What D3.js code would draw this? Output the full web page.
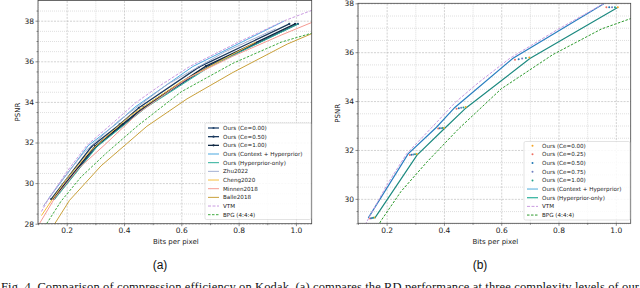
<!DOCTYPE html>
<html>
<head>
<meta charset="utf-8">
<script src="https://cdn.jsdelivr.net/npm/d3@7.9.0/dist/d3.min.js"></script>
<style>
  body { margin: 0; background: #fff; }
  svg { display: block; font-family: "DejaVu Sans", sans-serif; }
</style>
</head>
<body>
<svg id="chart" width="640" height="288"></svg>
<script>
// ---- data (bpp / PSNR) ----
const ce000Bpp = [0.157, 0.305, 0.400, 0.476, 0.698, 1.007];
const ce000Psnr = [29.24, 31.83, 32.90, 33.76, 35.78, 37.84];
const ce025Bpp = [0.142, 0.281, 0.380, 0.444, 0.648, 0.967];
const ce025Psnr = [29.20, 31.79, 32.88, 33.69, 35.69, 37.84];
const ce050Bpp = [0.146, 0.287, 0.385, 0.452, 0.661, 0.977];
const ce050Psnr = [29.21, 31.80, 32.89, 33.71, 35.71, 37.84];
const ce075Bpp = [0.150, 0.293, 0.390, 0.460, 0.673, 0.987];
const ce075Psnr = [29.22, 31.81, 32.89, 33.73, 35.74, 37.84];
const ce100Bpp = [0.153, 0.299, 0.395, 0.468, 0.686, 0.997];
const ce100Psnr = [29.23, 31.82, 32.90, 33.74, 35.76, 37.84];

const ctxHyperBpp = [0.136, 0.275, 0.374, 0.438, 0.640, 0.958];
const ctxHyperPsnr = [29.22, 31.84, 32.93, 33.74, 35.74, 37.98];
const hyperOnlyBpp = [0.158, 0.306, 0.401, 0.477, 0.700, 1.008];
const hyperOnlyPsnr = [29.20, 31.79, 32.87, 33.72, 35.74, 37.84];

const zhuBpp = [0.118, 0.17, 0.26, 0.38, 0.55, 0.75, 0.93];
const zhuPsnr = [28.85, 29.9, 31.5, 33.05, 34.85, 36.45, 37.6];
const chengBpp = [0.112, 0.15, 0.2, 0.28, 0.42, 0.6, 0.86];
const chengPsnr = [28.4, 29.2, 30.2, 31.55, 33.3, 35.0, 36.95];
const minnenBpp = [0.105, 0.16, 0.24, 0.33, 0.45, 0.62, 0.78, 0.95, 1.07];
const minnenPsnr = [28.0, 29.3, 30.7, 31.85, 33.45, 35.15, 36.25, 37.3, 38.0];
const balleBpp = [0.145, 0.21, 0.32, 0.48, 0.62, 0.78, 0.97, 1.07];
const ballePsnr = [27.7, 29.15, 30.85, 32.8, 34.15, 35.45, 36.85, 37.45];
const vtmBpp = [0.112, 0.13, 0.2, 0.27, 0.36, 0.44, 0.52, 0.63, 0.8, 0.96, 1.1];
const vtmPsnr = [28.6, 29.05, 30.55, 31.85, 32.95, 33.95, 34.75, 35.75, 36.95, 38.0, 38.75];
const bpgBpp = [0.13, 0.18, 0.25, 0.34, 0.45, 0.6, 0.78, 0.95, 1.07];
const bpgPsnr = [28.0, 29.1, 30.3, 31.5, 32.85, 34.5, 35.9, 36.95, 37.45];

// ---- ticks ----
const xTicks = [0.2, 0.4, 0.6, 0.8, 1.0];
const xMinor = [0.1, 0.3, 0.5, 0.7, 0.9];
const yTicksA = [28, 30, 32, 34, 36, 38];
const yMinorA = [28.5, 29, 29.5, 30.5, 31, 31.5, 32.5, 33, 33.5, 34.5, 35, 35.5, 36.5, 37, 37.5, 38.5];
const yTicksB = [30, 32, 34, 36, 38];
const yMinorB = [29, 29.5, 30.5, 31, 31.5, 32.5, 33, 33.5, 34.5, 35, 35.5, 36.5, 37, 37.5];

const svg = d3.select('#chart');
const pts = (bpp, psnr) => d3.zip(bpp, psnr);

function drawPanel(p) {
  const x = d3.scaleLinear().domain(p.xDomain).range([p.left, p.right]);
  const y = d3.scaleLinear().domain(p.yDomain).range([p.bottom, p.top]);
  const g = svg.append('g');
  const w = p.right - p.left, h = p.bottom - p.top;

  // grid, minor then major
  const gx = (vals, dash, col) => g.append('g')
    .attr('transform', `translate(0,${p.bottom})`)
    .call(d3.axisBottom(x).tickValues(vals).tickSize(-h).tickFormat(''))
    .call(s => s.select('.domain').remove())
    .selectAll('line').attr('stroke', col).attr('stroke-width', 0.6).attr('stroke-dasharray', dash);
  const gy = (vals, dash, col) => g.append('g')
    .attr('transform', `translate(${p.left},0)`)
    .call(d3.axisLeft(y).tickValues(vals).tickSize(-w).tickFormat(''))
    .call(s => s.select('.domain').remove())
    .selectAll('line').attr('stroke', col).attr('stroke-width', 0.6).attr('stroke-dasharray', dash);
  gx(xMinor, '1,1', '#cacaca');
  gy(p.yMinor, '1,1', '#cacaca');
  gx(xTicks, '2,1.2', '#b4b4b4');
  gy(p.yTicks, '2,1.2', '#b4b4b4');

  const clipId = 'clip' + p.id;
  svg.append('clipPath').attr('id', clipId)
    .append('rect').attr('x', p.left).attr('y', p.top).attr('width', w).attr('height', h);
  const plot = g.append('g').attr('clip-path', `url(#${clipId})`);
  const line = d3.line().x(d => x(d[0])).y(d => y(d[1]));

  p.series.filter(s => s.width).forEach(s => {
    plot.append('path').datum(pts(s.bpp, s.psnr)).attr('d', line)
      .attr('fill', 'none').attr('stroke', s.color).attr('stroke-width', s.width)
      .attr('stroke-dasharray', s.dash || null);
    if (s.marker) {
      plot.append('g').selectAll('circle').data(pts(s.bpp, s.psnr)).join('circle')
        .attr('cx', d => x(d[0])).attr('cy', d => y(d[1])).attr('r', s.marker)
        .attr('fill', s.color);
    }
  });
  // marker-only series go on top
  p.series.filter(s => !s.width).forEach(s => {
    plot.append('g').selectAll('circle').data(pts(s.bpp, s.psnr)).join('circle')
      .attr('cx', d => x(d[0])).attr('cy', d => y(d[1])).attr('r', s.marker)
      .attr('fill', s.color);
  });

  // axes
  const ax = g.append('g').attr('transform', `translate(0,${p.bottom})`)
    .call(d3.axisBottom(x).tickValues(xTicks).tickSize(2.5).tickPadding(1.5).tickFormat(d3.format('.1f')));
  ax.append('g').call(d3.axisBottom(x).tickValues(xMinor).tickSize(1.5).tickFormat(''));
  const ay = g.append('g').attr('transform', `translate(${p.left},0)`)
    .call(d3.axisLeft(y).tickValues(p.yTicks).tickSize(2.5).tickPadding(1.5).tickFormat(d3.format('d')));
  ay.append('g').call(d3.axisLeft(y).tickValues(p.yMinor).tickSize(1.5).tickFormat(''));
  [ax, ay].forEach(a => {
    a.selectAll('.domain').remove();
    a.selectAll('.tick text').attr('font-size', 7.5).attr('fill', '#222')
      .style('font-family', '"DejaVu Sans", sans-serif');
    a.selectAll('.tick line').attr('stroke', '#444').attr('stroke-width', 0.6);
  });

  g.append('rect').attr('x', p.left).attr('y', p.top).attr('width', w).attr('height', h)
    .attr('fill', 'none').attr('stroke', '#444').attr('stroke-width', 0.8);

  g.append('text').attr('x', (p.left + p.right) / 2 + 1).attr('y', 243.5)
    .attr('text-anchor', 'middle').attr('font-size', 7).attr('fill', '#222').text('Bits per pixel');
  g.append('text').attr('transform', `translate(${p.left - 18},${(p.top + p.bottom) / 2}) rotate(-90)`)
    .attr('text-anchor', 'middle').attr('font-size', 7).attr('fill', '#222').text('PSNR');
  g.append('text').attr('x', p.label.x).attr('y', 269)
    .attr('text-anchor', 'middle').attr('font-size', 12).attr('fill', '#111')
    .style('font-family', '"Liberation Sans", Arial, sans-serif').text(p.label.t);

  // legend
  const L = p.legend;
  const lg = g.append('g');
  lg.append('rect').attr('x', L.x).attr('y', L.y).attr('width', L.w).attr('height', L.h)
    .attr('rx', 1.5).attr('fill', '#fff').attr('fill-opacity', 0.85)
    .attr('stroke', '#d0d0d0').attr('stroke-width', 0.6);
  p.series.forEach((s, i) => {
    const cy = L.y + L.first + i * 8.67;
    if (s.width) {
      lg.append('line').attr('x1', L.x + 3).attr('x2', L.x + 14).attr('y1', cy).attr('y2', cy)
        .attr('stroke', s.legendColor || s.color).attr('stroke-width', s.legendWidth || s.width)
        .attr('stroke-dasharray', s.dash || null);
    }
    if (s.marker) {
      lg.append('circle').attr('cx', L.x + 8.5).attr('cy', cy).attr('r', s.marker)
        .attr('fill', s.color);
    }
    lg.append('text').attr('x', L.x + 18).attr('y', cy + 2).attr('font-size', 5.6)
      .attr('fill', '#222').text(s.name);
  });
}

drawPanel({
  id: 'a', left: 38, right: 311.7, top: 0.4, bottom: 223.7,
  xDomain: [0.1, 1.055], yDomain: [28, 39], yTicks: yTicksA, yMinor: yMinorA,
  label: { x: 160, t: '(a)' },
  legend: { x: 205, y: 123, w: 106, h: 96.5, first: 5 },
  series: [
    { name: 'Ours (Ce=0.00)', bpp: ce000Bpp, psnr: ce000Psnr, color: '#24466e', width: 1.3, marker: 1.1 },
    { name: 'Ours (Ce=0.50)', bpp: ce050Bpp, psnr: ce050Psnr, color: '#1b3a5e', width: 1.3, marker: 1.1 },
    { name: 'Ours (Ce=1.00)', bpp: ce100Bpp, psnr: ce100Psnr, color: '#0f2843', width: 1.3, marker: 1.1 },
    { name: 'Ours (Context + Hyperprior)', bpp: ctxHyperBpp, psnr: ctxHyperPsnr, color: '#4aa8e0', width: 1 },
    { name: 'Ours (Hyperprior-only)', bpp: hyperOnlyBpp, psnr: hyperOnlyPsnr, color: '#2bb09a', width: 1 },
    { name: 'Zhu2022', bpp: zhuBpp, psnr: zhuPsnr, color: '#a3b0d2', width: 1 },
    { name: 'Cheng2020', bpp: chengBpp, psnr: chengPsnr, color: '#f6bd3c', width: 1 },
    { name: 'Minnen2018', bpp: minnenBpp, psnr: minnenPsnr, color: '#f59a92', width: 1 },
    { name: 'Balle2018', bpp: balleBpp, psnr: ballePsnr, color: '#c9a03a', width: 1 },
    { name: 'VTM', bpp: vtmBpp, psnr: vtmPsnr, color: '#c99be0', width: 1, dash: '3,1.5' },
    { name: 'BPG (4:4:4)', bpp: bpgBpp, psnr: bpgPsnr, color: '#3faa3f', width: 1, dash: '2.5,1.5' }
  ]
});

drawPanel({
  id: 'b', left: 358, right: 630.7, top: 3.3, bottom: 223.3,
  xDomain: [0.1, 1.052], yDomain: [29, 38], yTicks: yTicksB, yMinor: yMinorB,
  label: { x: 480, t: '(b)' },
  legend: { x: 524, y: 141.5, w: 106, h: 78.5, first: 4.2 },
  series: [
    { name: 'Ours (Ce=0.00)', bpp: ce000Bpp, psnr: ce000Psnr, color: '#f5a524', marker: 1 },
    { name: 'Ours (Ce=0.25)', bpp: ce025Bpp, psnr: ce025Psnr, color: '#ee6f62', marker: 1 },
    { name: 'Ours (Ce=0.50)', bpp: ce050Bpp, psnr: ce050Psnr, color: '#1f77b4', marker: 1 },
    { name: 'Ours (Ce=0.75)', bpp: ce075Bpp, psnr: ce075Psnr, color: '#6f7fbf', marker: 1 },
    { name: 'Ours (Ce=1.00)', bpp: ce100Bpp, psnr: ce100Psnr, color: '#20a08a', marker: 1 },
    { name: 'Ours (Context + Hyperprior)', bpp: ctxHyperBpp, psnr: ctxHyperPsnr, color: '#2a7fc0', width: 1.2, legendColor: '#8ecae8', legendWidth: 1.6 },
    { name: 'Ours (Hyperprior-only)', bpp: hyperOnlyBpp, psnr: hyperOnlyPsnr, color: '#1d8a80', width: 1.2, legendColor: '#2bb09a' },
    { name: 'VTM', bpp: vtmBpp, psnr: vtmPsnr, color: '#c99be0', width: 1, dash: '3,1.5' },
    { name: 'BPG (4:4:4)', bpp: bpgBpp, psnr: bpgPsnr, color: '#2e9a2e', width: 1, dash: '2.5,1.5' }
  ]
});

// caption (cut off at the bottom edge, as in the figure)
svg.append('text').attr('x', 1).attr('y', 290.5)
  .style('font-family', '"Liberation Serif", "Times New Roman", serif').attr('font-size', 12.5)
  .attr('fill', '#111')
  .attr('textLength', 638).attr('lengthAdjust', 'spacing')
  .text('Fig. 4. Comparison of compression efficiency on Kodak. (a) compares the RD performance at three complexity levels of our');
</script>
</body>
</html>
